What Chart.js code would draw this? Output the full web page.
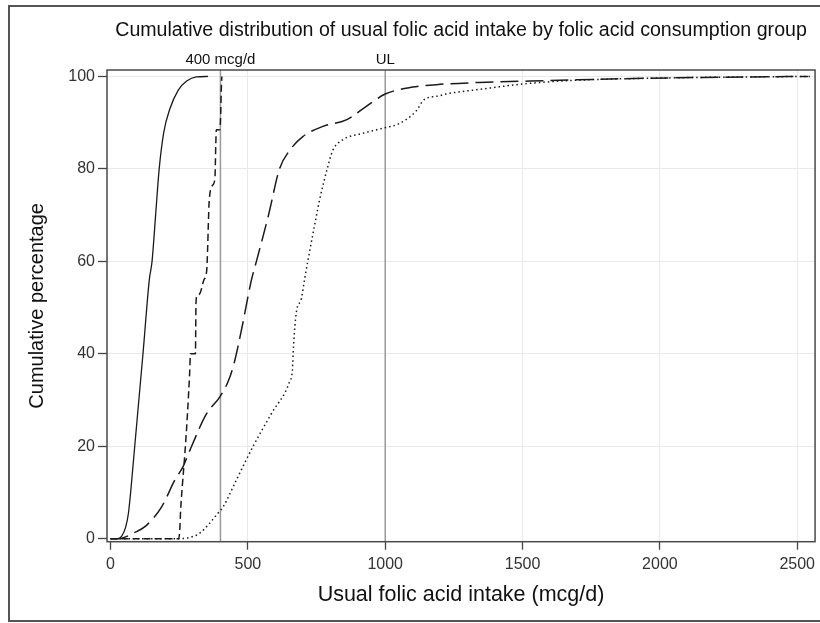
<!DOCTYPE html>
<html>
<head>
<meta charset="utf-8">
<script src="https://cdn.jsdelivr.net/npm/chart.js@4.4.0/dist/chart.umd.min.js"></script>
<style>
  html, body { margin: 0; padding: 0; background: #fff; }
  canvas { display: block; }
</style>
</head>
<body>
<canvas id="cdfChart" width="820" height="623"></canvas>
<script>
// group 1 - solid curve
var solidX = [0, 25, 40, 55, 65, 88, 118, 141, 151, 164, 177, 194, 216, 246, 277, 313, 355];
var solidY = [0, 0, 0.5, 2.5, 5.5, 20, 40, 56, 60, 70, 80, 88, 93, 97, 99, 99.9, 100];

// group 2 - short dashes (step-like)
var dashX = [0, 248, 252, 255, 262, 270, 280, 288, 291, 309, 310, 311, 314, 325, 340, 350, 353, 356, 359, 372, 380, 383, 385, 398, 401, 403, 405];
var dashY = [0, 0, 2, 6, 12, 18, 27, 36, 40, 40, 45, 51, 52.5, 53, 56, 58, 62, 68, 73, 76.5, 78, 85, 88.5, 88.5, 92, 97, 100];

// group 3 - long dashes
var longX = [0, 30, 47, 83, 125, 186, 234, 264, 295, 349, 398, 428, 450, 476, 513, 531, 575, 615, 652, 700, 773, 858, 930, 1000, 1100, 1200, 1342, 1584, 1947, 2310, 2540];
var longY = [0, 0, 0.2, 1.2, 2.6, 6.9, 12.7, 15.6, 20, 27, 30.7, 34, 38, 45, 56, 60, 70, 80, 84, 87, 89.2, 90.6, 93.5, 96.2, 97.7, 98.3, 98.7, 99.1, 99.6, 99.9, 100];

// group 4 - dotted
var dotX = [0, 252, 290, 325, 391, 410, 458, 519, 585, 652, 662, 666, 676, 695, 706, 718, 749, 761, 791, 809, 845, 918, 991, 1051, 1112, 1142, 1196, 1221, 1342, 1524, 1705, 1947, 2310, 2546];
var dotY = [0, 0, 0.3, 1.2, 5.5, 6.9, 12.7, 20, 27, 34, 36.5, 41.6, 48.8, 52, 56, 60, 69.7, 73.3, 80.5, 84, 86.3, 87.7, 88.8, 89.8, 92.5, 95, 95.8, 96.2, 97.2, 98.5, 99.2, 99.6, 99.9, 100];

var refLines = [400, 1000];
var refLabels = ['400 mcg/d', 'UL'];
var xTicks = [0, 500, 1000, 1500, 2000, 2500];
var yTicks = [0, 20, 40, 60, 80, 100];
var xRange = [-13, 2565];
var yRange = [-0.65, 101.4];

var chartTitle = 'Cumulative distribution of usual folic acid intake by folic acid consumption group';
var FONT = "'Liberation Sans', Arial, sans-serif";

function toPoints(xs, ys) {
  return xs.map(function (x, i) { return { x: x, y: ys[i] }; });
}

function curve(xs, ys, dash, width) {
  return {
    data: toPoints(xs, ys),
    borderColor: '#1a1a1a',
    borderWidth: width,
    borderDash: dash,
    pointRadius: 0,
    cubicInterpolationMode: 'monotone',
    fill: false
  };
}

var datasets = [
  curve(solidX, solidY, [], 1.3),
  curve(dashX, dashY, [7, 4], 1.5),
  curve(longX, longY, [18, 7], 1.5),
  curve(dotX, dotY, [1.5, 3], 1.5)
];
refLines.forEach(function (v) {
  datasets.push({
    data: [{ x: v, y: yRange[0] }, { x: v, y: yRange[1] }],
    borderColor: '#9a9a9a',
    borderWidth: 1.5,
    pointRadius: 0,
    fill: false
  });
});

var framePlugin = {
  id: 'frame',
  beforeDraw: function (chart) {
    var c = chart.ctx;
    c.save();
    c.fillStyle = '#fff';
    c.fillRect(0, 0, chart.width, chart.height);
    c.strokeStyle = '#555';
    c.lineWidth = 2;
    c.strokeRect(9, 6, chart.width + 20, chart.height - 8);
    c.restore();
  },
  afterDraw: function (chart) {
    var c = chart.ctx, a = chart.chartArea, xs = chart.scales.x;
    c.save();
    c.strokeStyle = '#4a4a4a';
    c.lineWidth = 1.5;
    c.strokeRect(a.left, a.top, a.right - a.left, a.bottom - a.top);
    c.fillStyle = '#111';
    c.textAlign = 'center';
    c.textBaseline = 'middle';
    c.font = '19.6px ' + FONT;
    c.fillText(chartTitle, (a.left + a.right) / 2, 31);
    c.font = '15px ' + FONT;
    refLines.forEach(function (v, i) {
      c.fillText(refLabels[i], xs.getPixelForValue(v), 60);
    });
    c.restore();
  }
};

function gridColor(ctx) {
  return ctx.tick && ctx.tick.value === 0 ? 'rgba(0,0,0,0)' : '#e9e9e9';
}

function plainTick(v) { return String(v); }

var ctx = document.getElementById('cdfChart').getContext('2d');
var cdfChart = new Chart(ctx, {
  type: 'line',
  data: { datasets: datasets },
  plugins: [framePlugin],
  options: {
    responsive: false,
    animation: false,
    layout: { padding: { top: 70, right: 0, left: 0, bottom: 0 } },
    plugins: {
      legend: { display: false },
      tooltip: { enabled: false }
    },
    scales: {
      x: {
        type: 'linear',
        min: xRange[0],
        max: xRange[1],
        afterBuildTicks: function (s) { s.ticks = xTicks.map(function (v) { return { value: v }; }); },
        afterFit: function (s) { s.height = 81.3; },
        border: { display: false },
        grid: { color: gridColor, tickColor: '#444', tickLength: 8, tickWidth: 1.3 },
        ticks: { color: '#333', padding: 5, font: { family: FONT, size: 16 }, maxRotation: 0, callback: plainTick },
        title: {
          display: true,
          text: 'Usual folic acid intake (mcg/d)',
          color: '#111',
          font: { family: FONT, size: 21.5 },
          padding: { top: 0, bottom: 15 }
        }
      },
      y: {
        type: 'linear',
        min: yRange[0],
        max: yRange[1],
        afterBuildTicks: function (s) { s.ticks = yTicks.map(function (v) { return { value: v }; }); },
        afterFit: function (s) { s.width = 107; },
        border: { display: false },
        grid: { color: gridColor, tickColor: '#444', tickLength: 9, tickWidth: 1.3 },
        ticks: { color: '#333', padding: 3, font: { family: FONT, size: 16 }, callback: plainTick },
        title: {
          display: true,
          text: 'Cumulative percentage',
          color: '#111',
          font: { family: FONT, size: 20 },
          padding: { top: 25, bottom: 0 }
        }
      }
    }
  }
});
</script>
</body>
</html>
